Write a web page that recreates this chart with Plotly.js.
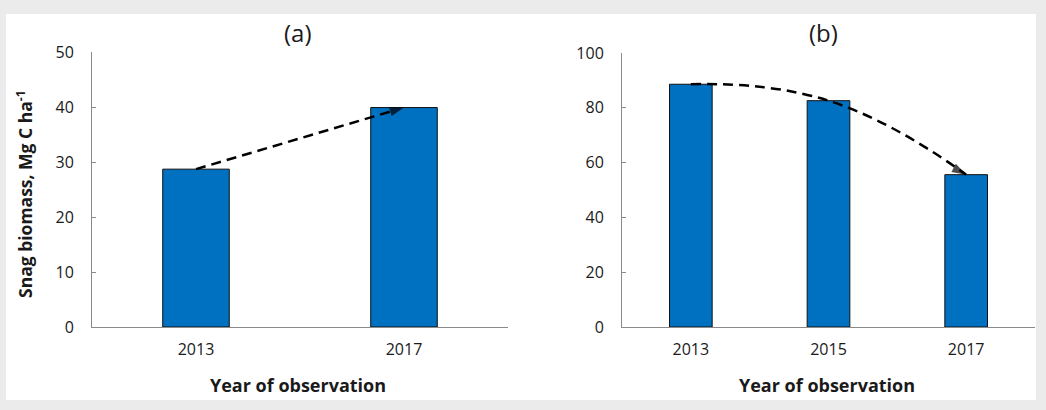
<!DOCTYPE html>
<html>
<head>
<meta charset="utf-8">
<script src="https://cdn.plot.ly/plotly-3.0.1.min.js"></script>
<style>html,body{margin:0;padding:0;background:#ebebeb;}#chart{width:1046px;height:410px;}</style>
</head>
<body>
<div id="chart"></div>
<script>
// Data
const yearsA = ['2013', '2017'];
const biomassA = [28.7, 39.9];
const yearsB = ['2013', '2015', '2017'];
const biomassB = [88.6, 82.6, 55.6];
const panelTitles = ['(a)', '(b)'];
const xTitle = 'Year of observation';
const yTitle = 'Snag biomass, Mg C ha<sup>-1</sup>';

const W = 1046, H = 410;
const px = v => v / W;
const py = v => (H - v) / H;

const FONT = '"Open Sans", sans-serif';
const TXT = '#1a1a1a';
const BLUE = '#0070C0';
const AX = '#8a8a8a';

// arrowhead only on the last point of each trend line
const headSizes = n => Array.from({length: n}, (_, i) => (i === n - 1 ? 15 : 0));

const traces = [
  {type: 'bar', x: yearsA, y: biomassA, xaxis: 'x', yaxis: 'y', width: 0.32,
   marker: {color: BLUE, line: {color: '#111', width: 1}}, hoverinfo: 'skip', showlegend: false},
  {type: 'scatter', mode: 'lines+markers', x: yearsA, y: biomassA, xaxis: 'x', yaxis: 'y',
   line: {color: '#000', width: 2.5, dash: '10px,6px'},
   marker: {symbol: 'arrow', angleref: 'previous', size: headSizes(yearsA.length), color: '#000', line: {width: 0}},
   hoverinfo: 'skip', showlegend: false},
  {type: 'bar', x: yearsB, y: biomassB, xaxis: 'x2', yaxis: 'y2', width: 0.31,
   marker: {color: BLUE, line: {color: '#111', width: 1}}, hoverinfo: 'skip', showlegend: false},
  {type: 'scatter', mode: 'lines+markers', x: yearsB, y: biomassB, xaxis: 'x2', yaxis: 'y2',
   line: {color: '#000', width: 2.5, dash: '10px,6px', shape: 'spline', smoothing: 1.3},
   marker: {symbol: 'arrow', angleref: 'previous', size: headSizes(yearsB.length), color: '#000', line: {width: 0}},
   hoverinfo: 'skip', showlegend: false}
];

const xCommon = {
  type: 'category', showline: true, linecolor: AX, linewidth: 1, ticks: '', showgrid: false,
  zeroline: false, tickfont: {family: FONT, size: 16, color: TXT}, ticklabelstandoff: 8, fixedrange: true
};
const yCommon = {
  showline: true, linecolor: AX, linewidth: 1, ticks: 'inside', ticklen: 4, tickcolor: AX,
  showgrid: false, zeroline: false, tickfont: {family: FONT, size: 16, color: TXT},
  ticklabelstandoff: 14, fixedrange: true
};

const layout = {
  width: W, height: H,
  margin: {l: 0, r: 0, t: 0, b: 0},
  paper_bgcolor: '#ebebeb',
  plot_bgcolor: 'rgba(0,0,0,0)',
  showlegend: false,
  xaxis: Object.assign({}, xCommon, {domain: [px(92), px(508)], anchor: 'y', range: [-0.5, 1.5]}),
  yaxis: Object.assign({}, yCommon, {domain: [py(327), py(52)], anchor: 'x', range: [0, 50], dtick: 10}),
  xaxis2: Object.assign({}, xCommon, {domain: [px(622), px(1035)], anchor: 'y2', range: [-0.5, 2.5]}),
  yaxis2: Object.assign({}, yCommon, {domain: [py(327), py(53)], anchor: 'x2', range: [0, 100], dtick: 20}),
  shapes: [
    {type: 'rect', xref: 'paper', yref: 'paper', x0: px(6), x1: px(1036), y0: py(400), y1: py(14),
     fillcolor: '#ffffff', line: {width: 0}, layer: 'below'}
  ],
  annotations: [
    {xref: 'paper', yref: 'paper', x: px(298), y: py(33), text: panelTitles[0], showarrow: false,
     font: {family: FONT, size: 24, color: TXT}, xanchor: 'center', yanchor: 'middle'},
    {xref: 'paper', yref: 'paper', x: px(823), y: py(33), text: panelTitles[1], showarrow: false,
     font: {family: FONT, size: 24, color: TXT}, xanchor: 'center', yanchor: 'middle'},
    {xref: 'paper', yref: 'paper', x: px(298), y: py(385), text: '<b>' + xTitle + '</b>', showarrow: false,
     font: {family: FONT, size: 18, color: TXT}, xanchor: 'center', yanchor: 'middle'},
    {xref: 'paper', yref: 'paper', x: px(827), y: py(385), text: '<b>' + xTitle + '</b>', showarrow: false,
     font: {family: FONT, size: 18, color: TXT}, xanchor: 'center', yanchor: 'middle'},
    {xref: 'paper', yref: 'paper', x: px(24), y: py(194), text: '<b>' + yTitle + '</b>', showarrow: false,
     textangle: -90, font: {family: FONT, size: 17.5, color: TXT}, xanchor: 'center', yanchor: 'middle'}
  ]
};

Plotly.newPlot('chart', traces, layout, {displayModeBar: false, staticPlot: true});
</script>
</body>
</html>
